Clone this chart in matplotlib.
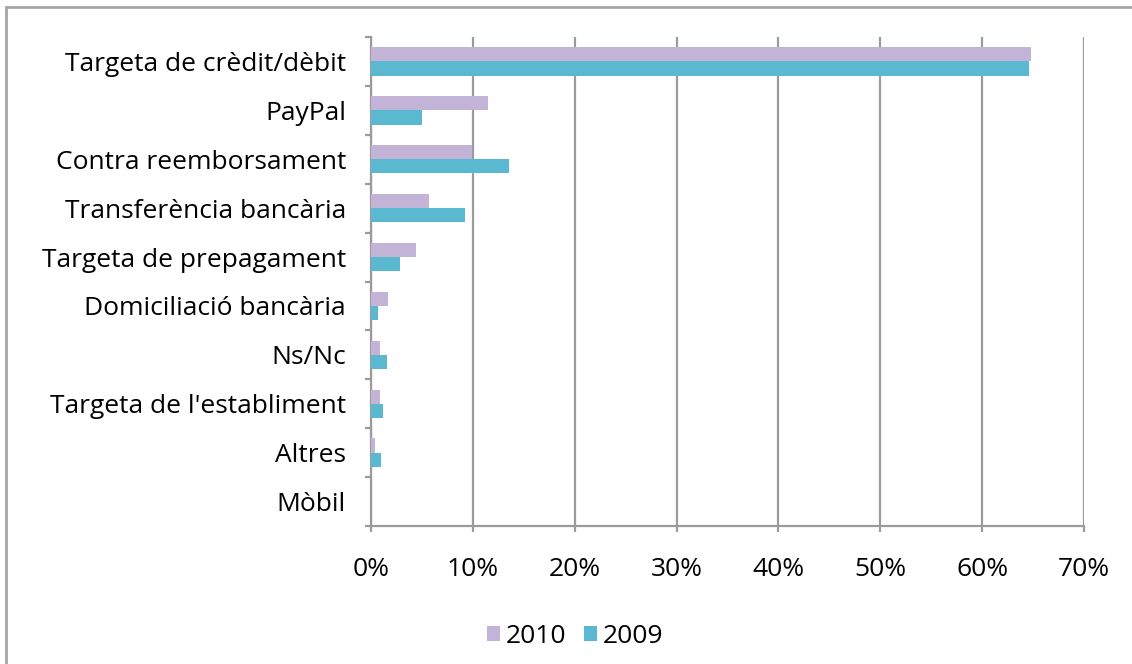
import matplotlib
matplotlib.use("Agg")
import matplotlib.pyplot as plt
from matplotlib.patches import Rectangle
from matplotlib.ticker import FixedLocator, FuncFormatter
import numpy as np

categories = [
    "Targeta de crèdit/dèbit",
    "PayPal",
    "Contra reemborsament",
    "Transferència bancària",
    "Targeta de prepagament",
    "Domiciliació bancària",
    "Ns/Nc",
    "Targeta de l'establiment",
    "Altres",
    "Mòbil",
]
values_2010 = [64.8, 11.5, 9.9, 5.7, 4.4, 1.7, 0.9, 0.9, 0.4, 0.0]
values_2009 = [64.6, 5.0, 13.6, 9.2, 2.9, 0.7, 1.6, 1.2, 1.0, 0.0]
x_ticks = [0, 10, 20, 30, 40, 50, 60, 70]

COLOR_2010 = "#C3B3D6"
COLOR_2009 = "#5BB8D1"
GRID = "#9B9B9B"
FS = 19

plt.rcParams["font.family"] = ["Open Sans", "DejaVu Sans"]

fig = plt.figure(figsize=(11.32, 6.64), dpi=100)
ax = fig.add_axes([0.3277, 0.2078, 0.6299, 0.7365])

y = np.arange(len(categories))
h = 0.29
ax.barh(y - h / 2, values_2010, height=h, color=COLOR_2010, label="2010",
        linewidth=0, zorder=3)
ax.barh(y + h / 2, values_2009, height=h, color=COLOR_2009, label="2009",
        linewidth=0, zorder=3)

ax.set_xlim(0, 70)
ax.set_ylim(len(categories) - 0.5, -0.5)

ax.set_xticks(x_ticks)
ax.xaxis.set_major_formatter(FuncFormatter(lambda v, p: f"{int(v)}%"))
ax.xaxis.grid(True, color=GRID, linewidth=1.6, zorder=0)
ax.tick_params(axis="x", direction="out", length=4, width=1.6, color=GRID,
               pad=18, labelsize=FS)

ax.set_yticks(y)
ax.set_yticklabels(categories)
ax.yaxis.set_minor_locator(FixedLocator(np.arange(-0.5, len(categories), 1.0)))
ax.tick_params(axis="y", which="major", length=0, pad=18, labelsize=FS)
ax.tick_params(axis="y", which="minor", direction="out", length=4, width=1.6,
               color=GRID)

for side in ("top", "right"):
    ax.spines[side].set_visible(False)
for side in ("left", "bottom"):
    ax.spines[side].set_color(GRID)
    ax.spines[side].set_linewidth(1.6)

fig.legend(loc="center", bbox_to_anchor=(0.508, 0.042), ncol=2, frameon=False,
           fontsize=FS, handlelength=0.5, handleheight=0.5,
           handletextpad=0.2, columnspacing=0.7)

# outer chart frame
fig.patches.append(Rectangle((6 / 1132, -0.1), 1.2, 1 - 7 / 664 + 0.1,
                             transform=fig.transFigure, fill=False,
                             edgecolor="#A6A6A6", linewidth=2.0))

fig.savefig("out.png", dpi=100, facecolor="white")
